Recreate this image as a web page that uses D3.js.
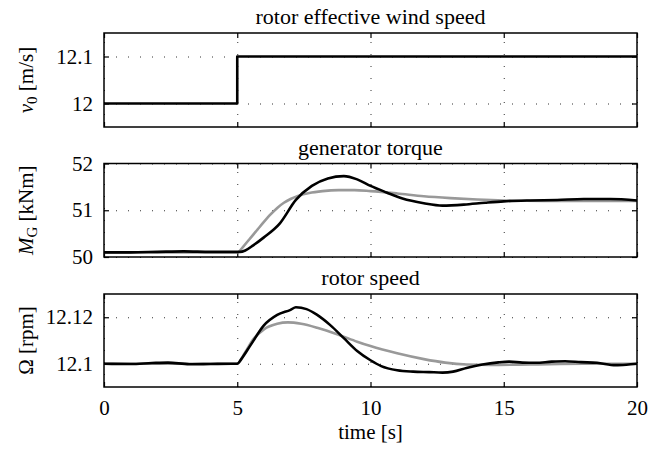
<!DOCTYPE html>
<html>
<head>
<meta charset="utf-8">
<script src="https://cdn.jsdelivr.net/npm/d3@7"></script>
<style>
  body { margin: 0; background: #fff; }
  svg text { font-family: "Liberation Serif", "Times New Roman", "DejaVu Serif", serif; }
  .grid line { stroke: #333; stroke-width: 1; stroke-dasharray: 1,11; }
  .grid path { display: none; }
  .tick-in line { stroke: #000; stroke-width: 1.2; }
  .tick-in path { display: none; }
</style>
</head>
<body>
<svg id="chart"></svg>
<script>
// time axis
const timeTicks = [0, 5, 10, 15, 20];

// rotor effective wind speed (step)
const windTime = [0, 5, 5, 20];
const windSpeed = [12, 12, 12.1, 12.1];
const windTicks = [12, 12.1];

// generator torque [kNm]
const torqueTimeMeas = [0, 1, 2, 3, 4, 4.8, 5.1, 5.3, 5.6, 6, 6.6, 7.2, 7.8, 8.4, 9, 9.5, 10, 10.6, 11.2, 12, 12.7, 13.5, 14.3, 15, 16, 17, 18, 19, 20];
const torqueMeas = [50.1, 50.1, 50.11, 50.12, 50.11, 50.11, 50.11, 50.14, 50.25, 50.42, 50.72, 51.22, 51.52, 51.68, 51.73, 51.66, 51.52, 51.38, 51.25, 51.15, 51.1, 51.12, 51.16, 51.19, 51.21, 51.22, 51.24, 51.24, 51.21];
const torqueTimeModel = [0, 2.5, 5, 5.25, 5.5, 5.75, 6, 6.25, 6.5, 6.75, 7, 7.3, 7.7, 8.2, 8.8, 9.4, 10, 11, 12, 13, 14, 15, 16.5, 18, 20];
const torqueModel = [50.1, 50.1, 50.1, 50.24, 50.41, 50.58, 50.75, 50.91, 51.05, 51.16, 51.24, 51.31, 51.37, 51.41, 51.43, 51.43, 51.41, 51.36, 51.3, 51.26, 51.23, 51.21, 51.2, 51.2, 51.2];
const torqueTicks = [50, 51, 52];

// rotor speed [rpm]
const speedTimeMeas = [0, 1, 1.8, 2.4, 3.2, 4, 4.8, 5, 5.15, 5.5, 6, 6.5, 7, 7.2, 7.6, 8, 8.5, 9, 9.5, 10, 10.4, 11, 11.6, 12.2, 12.7, 13.1, 13.6, 14.2, 14.8, 15.2, 15.7, 16.2, 16.8, 17.3, 17.9, 18.5, 19.2, 19.6, 20];
const speedMeas = [12.1, 12.0999, 12.1003, 12.1005, 12.0998, 12.0999, 12.1, 12.1, 12.102, 12.108, 12.1165, 12.121, 12.1232, 12.1243, 12.1235, 12.121, 12.1165, 12.111, 12.1055, 12.1015, 12.099, 12.0972, 12.0966, 12.0964, 12.0962, 12.0966, 12.0982, 12.0997, 12.1006, 12.1009, 12.1005, 12.1004, 12.1009, 12.1011, 12.1007, 12.1004, 12.0994, 12.0996, 12.1];
const speedTimeModel = [0, 2.5, 5, 5.3, 5.6, 6, 6.5, 6.9, 7.4, 8, 8.8, 9.5, 10, 11, 12, 12.8, 13.6, 14.5, 16, 18, 20];
const speedModel = [12.1, 12.1, 12.1, 12.105, 12.1105, 12.1148, 12.1172, 12.1178, 12.1172, 12.1155, 12.1125, 12.1095, 12.1076, 12.1045, 12.102, 12.1005, 12.0997, 12.0995, 12.0997, 12.1, 12.1];
const speedTicks = [12.1, 12.12];

const W = 662, H = 452;
const left = 104, right = 637;
const FONT = "Liberation Serif, Times New Roman, DejaVu Serif, serif";
const svg = d3.select("#chart").attr("width", W).attr("height", H).attr("font-family", FONT);
svg.append("rect").attr("width", W).attr("height", H).attr("fill", "#fff");

const x = d3.scaleLinear().domain([0, 20]).range([left, right]);

const zip = (ts, vs) => ts.map((t, i) => ({ t: t, v: vs[i] }));

function drawPanel(opts) {
    const y = d3.scaleLinear().domain(opts.domain).range([opts.bottom, opts.top]);
    const h = opts.bottom - opts.top;
    const g = svg.append("g");

    // dotted grid
    g.append("g").attr("class", "grid")
        .attr("transform", `translate(0,${opts.bottom})`)
        .call(d3.axisBottom(x).tickValues(timeTicks).tickSize(-h).tickFormat(""));
    g.append("g").attr("class", "grid")
        .attr("transform", `translate(${left},0)`)
        .call(d3.axisLeft(y).tickValues(opts.ticks).tickSize(-(right - left)).tickFormat(""));

    // inner tick marks on all four sides
    g.append("g").attr("class", "tick-in").attr("transform", `translate(0,${opts.bottom})`)
        .call(d3.axisBottom(x).tickValues(timeTicks).tickSize(-5).tickFormat(""));
    g.append("g").attr("class", "tick-in").attr("transform", `translate(0,${opts.top})`)
        .call(d3.axisTop(x).tickValues(timeTicks).tickSize(-5).tickFormat(""));
    g.append("g").attr("class", "tick-in").attr("transform", `translate(${left},0)`)
        .call(d3.axisLeft(y).tickValues(opts.ticks).tickSize(-5).tickFormat(""));
    g.append("g").attr("class", "tick-in").attr("transform", `translate(${right},0)`)
        .call(d3.axisRight(y).tickValues(opts.ticks).tickSize(-5).tickFormat(""));

    // y tick labels
    const yLab = g.append("g")
        .attr("transform", `translate(${left},0)`)
        .call(d3.axisLeft(y).tickValues(opts.ticks).tickSize(0).tickPadding(11).tickFormat(d3.format("")));
    yLab.attr("font-family", FONT).attr("font-size", 21);
    yLab.select(".domain").remove();
    yLab.selectAll("text").attr("fill", "#000");

    // x tick labels only on the last panel
    if (opts.xLabels) {
        const xLab = g.append("g")
            .attr("transform", `translate(0,${opts.bottom})`)
            .call(d3.axisBottom(x).tickValues(timeTicks).tickSize(0).tickPadding(13).tickFormat(d3.format("")));
        xLab.attr("font-family", FONT).attr("font-size", 21);
        xLab.select(".domain").remove();
        xLab.selectAll("text").attr("fill", "#000");
    }

    // lines
    const line = d3.line().x(d => x(d.t)).y(d => y(d.v)).curve(opts.curve || d3.curveMonotoneX);
    opts.series.forEach(s => {
        g.append("path")
            .attr("fill", "none")
            .attr("stroke", s.color)
            .attr("stroke-width", 2.6)
            .attr("stroke-linejoin", "round")
            .attr("d", line(s.data));
    });

    // box
    g.append("rect")
        .attr("x", left).attr("y", opts.top)
        .attr("width", right - left).attr("height", h)
        .attr("fill", "none").attr("stroke", "#000").attr("stroke-width", 1.5);

    // title
    g.append("text")
        .attr("x", (left + right) / 2).attr("y", opts.top - 9)
        .attr("text-anchor", "middle").attr("font-size", 22)
        .text(opts.title);

    // y axis label
    const yl = g.append("text")
        .attr("transform", `translate(33,${(opts.top + opts.bottom) / 2}) rotate(-90)`)
        .attr("text-anchor", "middle").attr("font-size", 21);
    opts.ylabel(yl);
}

drawPanel({
    top: 33, bottom: 127, domain: [11.95, 12.15], ticks: windTicks,
    title: "rotor effective wind speed",
    curve: d3.curveLinear,
    series: [{ color: "#000", data: zip(windTime, windSpeed) }],
    ylabel: t => {
        t.append("tspan").attr("font-style", "italic").text("v");
        t.append("tspan").attr("font-size", 15).attr("dy", 4).text("0");
        t.append("tspan").attr("dy", -4).text(" [m/s]");
    }
});

drawPanel({
    top: 163.5, bottom: 257, domain: [50, 52], ticks: torqueTicks,
    title: "generator torque",
    series: [
        { color: "#999", data: zip(torqueTimeModel, torqueModel) },
        { color: "#000", data: zip(torqueTimeMeas, torqueMeas) }
    ],
    ylabel: t => {
        t.append("tspan").attr("font-style", "italic").text("M");
        t.append("tspan").attr("font-size", 15).attr("dy", 4).text("G");
        t.append("tspan").attr("dy", -4).text(" [kNm]");
    }
});

drawPanel({
    top: 294, bottom: 387, domain: [12.09, 12.13], ticks: speedTicks,
    title: "rotor speed", xLabels: true,
    series: [
        { color: "#999", data: zip(speedTimeModel, speedModel) },
        { color: "#000", data: zip(speedTimeMeas, speedMeas) }
    ],
    ylabel: t => t.text("Ω [rpm]")
});

// x axis label
svg.append("text")
    .attr("x", (left + right) / 2).attr("y", 439)
    .attr("text-anchor", "middle").attr("font-size", 21)
    .text("time [s]");
</script>
</body>
</html>
